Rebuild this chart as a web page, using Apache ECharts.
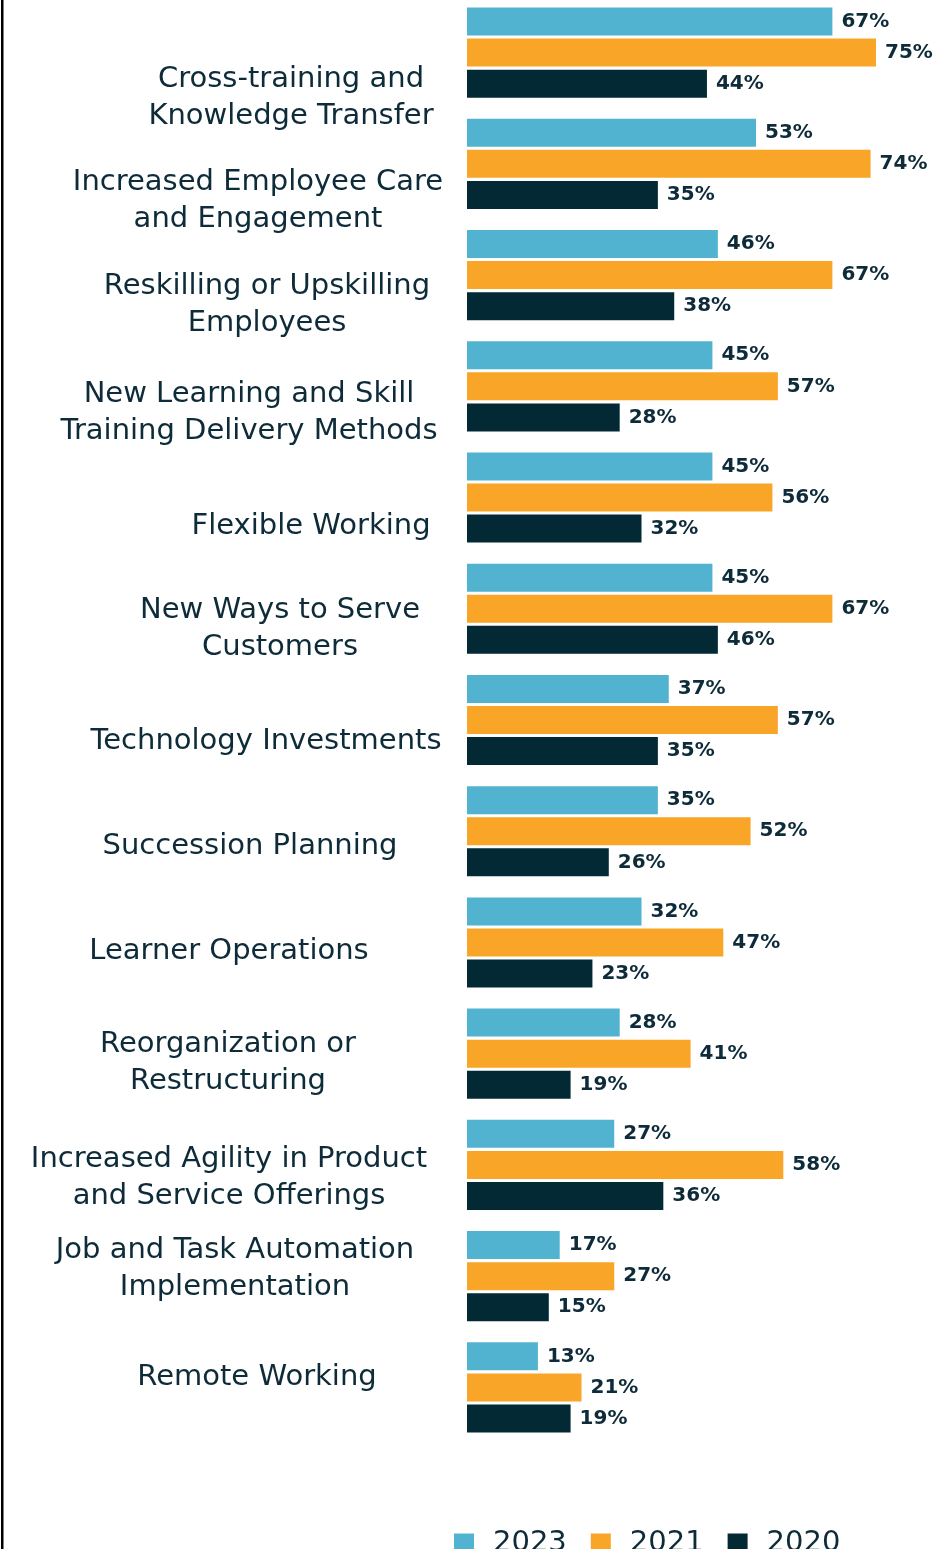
<!DOCTYPE html>
<html>
<head>
<meta charset="utf-8">
<script src="https://cdn.jsdelivr.net/npm/echarts@6/dist/echarts.min.js"></script>
<style>
  html, body { margin: 0; padding: 0; background: #fff; }
  #chart { width: 938px; height: 1549px; }
</style>
</head>
<body>
<div id="chart"></div>
<script>
// categories, top to bottom
const categories = [
  'Cross-training and\nKnowledge Transfer',
  'Increased Employee Care\nand Engagement',
  'Reskilling or Upskilling\nEmployees',
  'New Learning and Skill\nTraining Delivery Methods',
  'Flexible Working',
  'New Ways to Serve\nCustomers',
  'Technology Investments',
  'Succession Planning',
  'Learner Operations',
  'Reorganization or\nRestructuring',
  'Increased Agility in Product\nand Service Offerings',
  'Job and Task Automation\nImplementation',
  'Remote Working'
]
const years = ['2023', '2021', '2020']
const values2023 = [67, 53, 46, 45, 45, 45, 37, 35, 32, 28, 27, 17, 13]
const values2021 = [75, 74, 67, 57, 56, 67, 57, 52, 47, 41, 58, 27, 21]
const values2020 = [44, 35, 38, 28, 32, 46, 35, 26, 23, 19, 36, 15, 19]

// per-label nudges (x, y) so the labels sit where they do in the source
const labelDx = [36, 3, 12, -6, 56, 25, 11, -5, -26, -27, -26, -20, 2]
const labelDy = [45, 37, 30, 27, 29, 20, 21, 15, 9, 9, 13, -7, -10]

const colors = ['#52b3d1', '#f9a527', '#022934']
const textColor = '#0d2b38'

const myChart = echarts.init(document.getElementById('chart'))

// horizontal nudge through padding, vertical nudge through an empty spacer line
const catData = categories.map((c, i) => {
  const dx = labelDx[i]
  return {
    value: c,
    textStyle: {
      align: 'center',
      padding: [0, Math.max(-dx, 0) * 2, 0, Math.max(dx, 0) * 2]
    }
  }
})

const rich = {}
labelDy.forEach((dy, i) => {
  rich['g' + i] = { height: Math.abs(dy) * 2, lineHeight: Math.abs(dy) * 2, fontSize: 1 }
})

const labelFormatter = (value, index) => {
  const dy = labelDy[index]
  if (dy > 0) return '{g' + index + '| }\n' + value
  if (dy < 0) return value + '\n{g' + index + '| }'
  return value
}

const makeSeries = (name, data, idx) => ({
  name: name,
  type: 'bar',
  data: data,
  barWidth: 28,
  barGap: '11%',
  itemStyle: { color: colors[idx] },
  label: {
    show: true,
    position: 'right',
    distance: 9,
    formatter: '{c}%',
    color: textColor,
    fontFamily: 'DejaVu Sans',
    fontWeight: 'bold',
    fontSize: 20
  }
})

const option = {
  backgroundColor: '#fff',
  animation: false,
  grid: { left: 467, right: 2, top: -3, height: 1446, containLabel: false, outerBoundsMode: 'none' },
  xAxis: {
    type: 'value',
    min: 0,
    max: 86,
    show: false
  },
  yAxis: {
    type: 'category',
    inverse: true,
    data: catData,
    axisLine: { show: false },
    axisTick: { show: false },
    axisLabel: {
      interval: 0,
      margin: 212,
      align: 'center',
      color: textColor,
      fontFamily: 'DejaVu Sans',
      fontSize: 29,
      lineHeight: 37,
      formatter: labelFormatter,
      rich: rich
    }
  },
  legend: {
    data: years,
    left: 449,
    top: 1524,
    itemWidth: 20,
    itemHeight: 20,
    itemGap: 24,
    icon: 'rect',
    textStyle: {
      color: textColor,
      fontFamily: 'DejaVu Sans',
      fontSize: 29,
      padding: [0, 0, 0, 14]
    }
  },
  graphic: [{
    type: 'rect',
    left: 1,
    top: 0,
    shape: { width: 2.5, height: 1549 },
    style: { fill: '#000' }
  }],
  series: [
    makeSeries('2023', values2023, 0),
    makeSeries('2021', values2021, 1),
    makeSeries('2020', values2020, 2)
  ]
}

myChart.setOption(option)
</script>
</body>
</html>
